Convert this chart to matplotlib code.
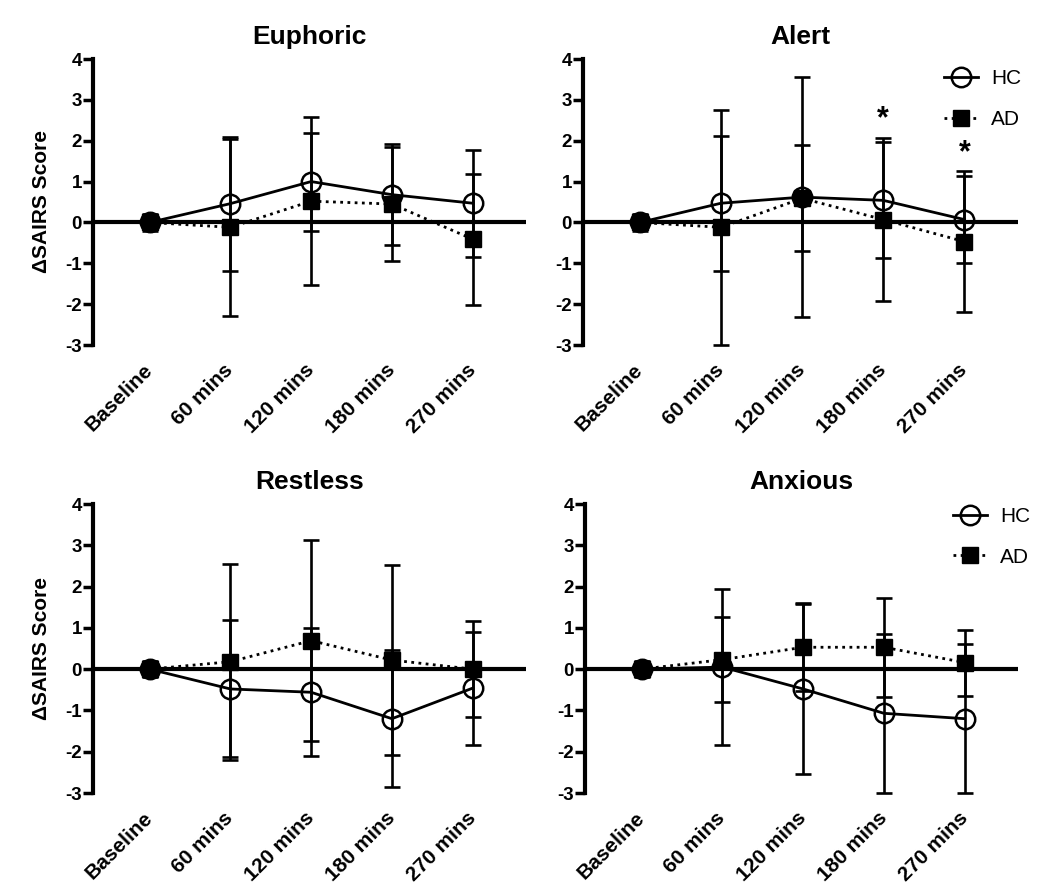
import matplotlib.pyplot as plt
import numpy as np

plt.rcParams["font.family"] = ["Liberation Sans", "DejaVu Sans"]
plt.rcParams["axes.unicode_minus"] = False

timepoints = ["Baseline", "60 mins", "120 mins", "180 mins", "270 mins"]

euphoric_hc_mean = [0, 0.46, 1.00, 0.68, 0.47]
euphoric_hc_sd = [0, 1.64, 1.20, 1.24, 1.31]
euphoric_ad_mean = [0, -0.12, 0.52, 0.45, -0.41]
euphoric_ad_sd = [0.2, 2.16, 2.06, 1.40, 1.60]

alert_hc_mean = [0, 0.47, 0.62, 0.54, 0.07]
alert_hc_sd = [0, 1.65, 2.94, 1.42, 1.07]
alert_ad_mean = [0, -0.12, 0.59, 0.07, -0.47]
alert_ad_sd = [0.2, 2.88, 1.30, 2.00, 1.72]
alert_sig = ["", "", "", "*", "*"]

restless_hc_mean = [0, -0.48, -0.56, -1.20, -0.46]
restless_hc_sd = [0, 1.66, 1.55, 1.66, 1.37]
restless_ad_mean = [0, 0.18, 0.69, 0.22, 0.00]
restless_ad_sd = [0.2, 2.37, 2.44, 2.30, 1.16]

anxious_hc_mean = [0, 0.05, -0.48, -1.07, -1.20]
anxious_hc_sd = [0, 1.88, 2.05, 1.92, 1.80]
anxious_ad_mean = [0, 0.23, 0.53, 0.53, 0.16]
anxious_ad_sd = [0.2, 1.03, 1.07, 1.20, 0.80]

W, H = 1050, 896
fig = plt.figure(figsize=(W / 100, H / 100), dpi=100)


def make_axes(left, right, top, bottom):
    return fig.add_axes([left / W, 1 - bottom / H, (right - left) / W, (bottom - top) / H])


def draw_panel(ax, title, hc_mean, hc_sd, ad_mean, ad_sd, ylabel=False, legend=None, sig=None):
    x = np.arange(len(timepoints))
    ax.axhline(0, color="black", lw=3, zorder=1)
    ax.errorbar(x, ad_mean, yerr=ad_sd, fmt="none", ecolor="black", elinewidth=1.9,
                capsize=6, capthick=1.9, zorder=2, clip_on=False)
    ax.errorbar(x, hc_mean, yerr=hc_sd, fmt="none", ecolor="black", elinewidth=1.9,
                capsize=6, capthick=1.9, zorder=2, clip_on=False)
    ax.plot(x, ad_mean, color="black", lw=2, linestyle=(0, (1, 1.6)), marker="s",
            markersize=11, markerfacecolor="black", markeredgecolor="black",
            label="AD", zorder=3, clip_on=False)
    ax.plot(x, hc_mean, color="black", lw=2, marker="o", markersize=14,
            markerfacecolor="none", markeredgecolor="black", markeredgewidth=1.8,
            label="HC", zorder=4, clip_on=False)

    ax.set_xlim(-0.7, 4.66)
    ax.set_ylim(-3, 4)
    ax.set_yticks(range(-3, 5))
    ax.set_xticks(x)
    ax.set_xticklabels(timepoints, rotation=45, ha="right", va="center",
                       rotation_mode="anchor", fontweight="bold", fontsize=15)
    for lab in ax.get_yticklabels():
        lab.set_fontweight("bold")
    ax.tick_params(axis="x", length=0, pad=16)
    ax.tick_params(axis="y", direction="out", length=7, width=2.5, labelsize=13.5, pad=1)
    for side in ["top", "right", "bottom"]:
        ax.spines[side].set_visible(False)
    ax.spines["left"].set_linewidth(3)
    ax.set_title(title, fontsize=19, fontweight="bold", pad=11)
    if ylabel:
        ax.set_ylabel("\u0394SAIRS Score", fontsize=15, fontweight="bold", labelpad=10)
    if legend is not None:
        handles, labels = ax.get_legend_handles_labels()
        ax.legend(handles[::-1], labels[::-1], loc="upper left", bbox_to_anchor=legend,
                  frameon=False, fontsize=15, handlelength=1.65, handletextpad=0.6,
                  labelspacing=1.05, borderpad=0, borderaxespad=0)
    if sig is not None:
        for i, s in enumerate(sig):
            if s:
                top = max(hc_mean[i] + hc_sd[i], ad_mean[i] + ad_sd[i])
                ax.text(x[i], top + 0.45, s, ha="center", va="center",
                        fontsize=22, fontweight="bold")


ax1 = make_axes(93, 526, 59, 345)
draw_panel(ax1, "Euphoric", euphoric_hc_mean, euphoric_hc_sd, euphoric_ad_mean, euphoric_ad_sd,
           ylabel=True)
ax2 = make_axes(583, 1018, 59, 345)
draw_panel(ax2, "Alert", alert_hc_mean, alert_hc_sd, alert_ad_mean, alert_ad_sd,
           legend=(0.83, 0.965), sig=alert_sig)
ax3 = make_axes(93, 526, 504, 793)
draw_panel(ax3, "Restless", restless_hc_mean, restless_hc_sd, restless_ad_mean, restless_ad_sd,
           ylabel=True)
ax4 = make_axes(585, 1018, 504, 793)
draw_panel(ax4, "Anxious", anxious_hc_mean, anxious_hc_sd, anxious_ad_mean, anxious_ad_sd,
           legend=(0.85, 0.99))

fig.savefig("out.png", dpi=100, facecolor="white")
